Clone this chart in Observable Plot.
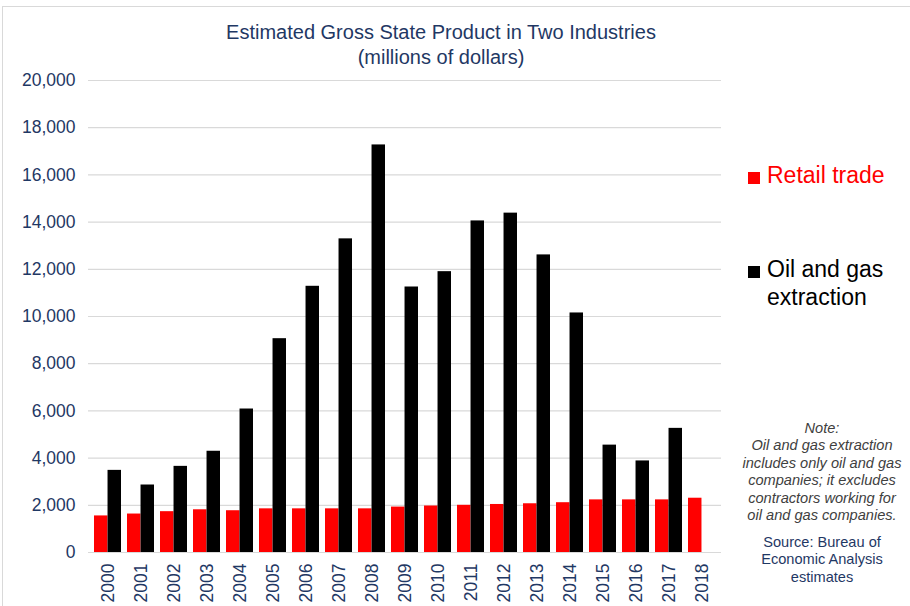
<!DOCTYPE html>
<html>
<head>
<meta charset="utf-8">
<script src="https://cdn.jsdelivr.net/npm/d3@7"></script>
<script src="https://cdn.jsdelivr.net/npm/@observablehq/plot@0.6"></script>
<style>
  html, body { margin: 0; padding: 0; background: #fff; overflow: hidden; }
  #wrap { position: relative; width: 910px; height: 606px; font-family: "Liberation Sans", Arial, sans-serif; }
  #frame { position: absolute; left: 2px; top: 6px; width: 940px; height: 640px; border: 1px solid #d9d9d9; }
  #chart { position: absolute; left: 0; top: 0; }
  .abs { position: absolute; }
  #title { left: 141px; width: 600px; top: 19.6px; text-align: center; font-size: 20px; line-height: 25px; color: #1f3864; }
  .leg { left: 767px; font-size: 23px; line-height: 28px; }
  .sw { width: 12px; height: 12px; }
  .note { left: 722px; width: 200px; text-align: center; font-size: 14.6px; line-height: 17.4px; }
</style>
</head>
<body>
<div id="wrap">
  <div id="frame"></div>
  <div id="chart"></div>
  <div id="title" class="abs">Estimated Gross State Product in Two Industries<br>(millions of dollars)</div>
  <div class="abs sw" style="left:748px; top:172px; background:#ff0000;"></div>
  <div class="abs leg" style="top:161px; color:#ff0000;">Retail trade</div>
  <div class="abs sw" style="left:748px; top:266px; background:#000;"></div>
  <div class="abs leg" style="top:255px; color:#000;">Oil and gas<br>extraction</div>
  <div class="abs note" style="top:420px; color:#404040; font-style:italic;">Note:<br>Oil and gas extraction<br>includes only oil and gas<br>companies; it excludes<br>contractors working for<br>oil and gas companies.</div>
  <div class="abs note" style="top:534px; color:#1f3864;">Source: Bureau of<br>Economic Analysis<br>estimates</div>
</div>
<script>
const years = ["2000","2001","2002","2003","2004","2005","2006","2007","2008","2009","2010","2011","2012","2013","2014","2015","2016","2017","2018"];
const retailTrade = [1550,1630,1730,1810,1770,1850,1850,1850,1850,1925,1970,2000,2035,2065,2110,2230,2230,2230,2300];
const oilAndGas = [3480,2860,3650,4290,6080,9060,11280,13290,17270,11250,11900,14050,14380,12610,10150,4550,3880,5260,null];
const yTicks = [0,2000,4000,6000,8000,10000,12000,14000,16000,18000,20000];

const retailData = years.map((y, i) => ({year: y, value: retailTrade[i]}));
const oilData = years.map((y, i) => ({year: y, value: oilAndGas[i]})).filter(d => d.value != null);

const W = 910, H = 606, ML = 88, MR = 189, MT = 80, MB = 54, PAD = 0.18;
const step = (W - ML - MR) / (years.length + PAD);
const half = step * (1 - PAD) / 2;

const navy = "#1f3864";
const chart = Plot.plot({
  width: W, height: H,
  marginLeft: ML, marginRight: MR, marginTop: MT, marginBottom: MB,
  style: {fontFamily: "'Liberation Sans', Arial, sans-serif", background: "transparent"},
  x: {domain: years, padding: PAD, label: null},
  y: {domain: [0, 20000], label: null},
  marks: [
    Plot.gridY(yTicks, {stroke: "#d9d9d9", strokeOpacity: 1, strokeWidth: 1.2}),
    Plot.axisY(yTicks, {tickSize: 0, tickPadding: 13, tickFormat: d3.format(","), fontSize: 17.5, color: navy, label: null}),
    Plot.axisX({tickRotate: -90, tickSize: 0, tickPadding: 11, fontSize: 17.5, color: navy, label: null}),
    Plot.barY(retailData, {x: "year", y: "value", fill: "#ff0000", insetRight: half}),
    Plot.barY(oilData, {x: "year", y: "value", fill: "#000000", insetLeft: half})
  ]
});
document.getElementById("chart").appendChild(chart);
</script>
</body>
</html>
